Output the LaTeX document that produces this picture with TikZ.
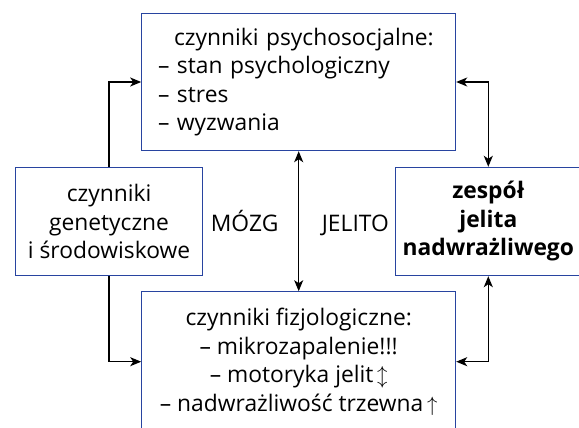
\documentclass[tikz,border=0pt]{standalone}
\usepackage{fontspec}
\setmainfont{Open Sans}
\usepackage{tikz}
\usetikzlibrary{positioning}
\usetikzlibrary{arrows.meta}
\usepackage{xcolor}
\definecolor{boxblue}{RGB}{40,68,160}

\begin{document}
\begin{tikzpicture}[x=1pt, y=-1pt,
  box/.style={draw=boxblue, line width=1pt, inner sep=0pt, font=\fontsize{22.8}{28.5}\selectfont},
  conn/.style={black, line width=1.3pt, -{Stealth[length=11pt, width=9pt, inset=3pt]}},
  bothconn/.style={black, line width=1.3pt, {Stealth[length=11pt, width=9pt, inset=3pt]}-{Stealth[length=11pt, width=9pt, inset=3pt]}},
  tag/.style={font=\fontsize{22.8}{28.5}\selectfont, inner sep=0pt}]
\useasboundingbox (0,0) rectangle (579,428);

\node[box, minimum width=314, minimum height=137.4, text width=281.4, align=left] (psy) at (298.7,82)
 {\hspace*{16pt}czynniki psychosocjalne:\\ – stan psychologiczny\\ – stres\\ – wyzwania};

\node[box, minimum width=314, minimum height=140, align=center] (fiz) at (298.7,361.7)
 {czynniki fizjologiczne:\\ – mikrozapalenie!!!\\ – motoryka jelit\,$\updownarrow$\\ – nadwrażliwość trzewna\,$\uparrow$};

\node[box, minimum width=186.6, minimum height=108.4, align=center] (gen) at (109,221.5)
 {czynniki\\ genetyczne\\ i środowiskowe};

\node[box, minimum width=186.6, minimum height=108.4, align=center, font=\fontsize{22.8}{28.5}\selectfont\bfseries] (ibs) at (488.3,221.5)
 {zespół\\ jelita\\ nadwrażliwego};

\node[tag, anchor=base west] (mozg) at (210.7,231) {MÓZG};
\node[tag, anchor=base west] (jelito) at (321.7,231) {JELITO};

\draw[conn] (gen.north) |- (psy.west);
\draw[conn] (gen.south) |- (fiz.west);
\draw[bothconn] (psy.east) -| (ibs.north);
\draw[bothconn] (ibs.south) |- (fiz.east);
\draw[bothconn] (psy.south) -- (fiz.north);

\end{tikzpicture}
\end{document}
